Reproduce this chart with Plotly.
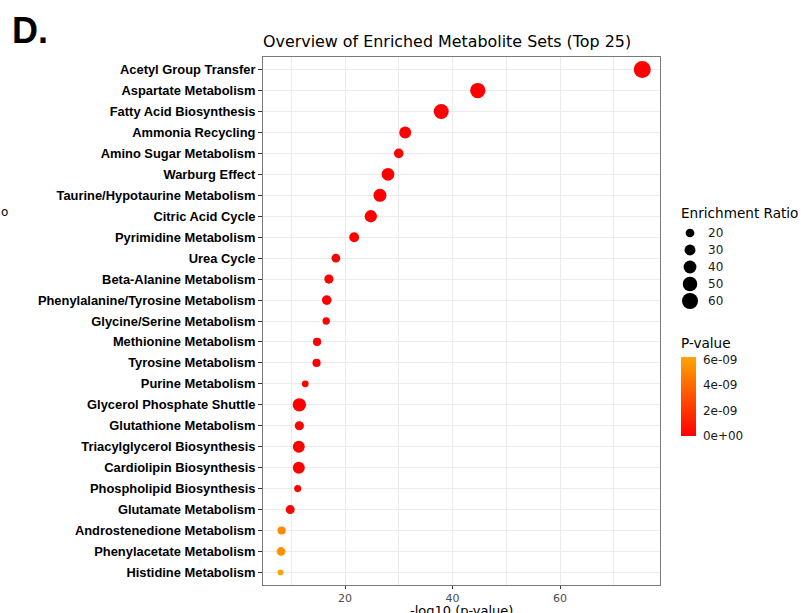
import numpy as np
import plotly.graph_objects as go

# ---------------- data ----------------
metabolite_sets = [
    "Acetyl Group Transfer", "Aspartate Metabolism", "Fatty Acid Biosynthesis",
    "Ammonia Recycling", "Amino Sugar Metabolism", "Warburg Effect",
    "Taurine/Hypotaurine Metabolism", "Citric Acid Cycle", "Pyrimidine Metabolism",
    "Urea Cycle", "Beta-Alanine Metabolism", "Phenylalanine/Tyrosine Metabolism",
    "Glycine/Serine Metabolism", "Methionine Metabolism", "Tyrosine Metabolism",
    "Purine Metabolism", "Glycerol Phosphate Shuttle", "Glutathione Metabolism",
    "Triacylglycerol Biosynthesis", "Cardiolipin Biosynthesis",
    "Phospholipid Biosynthesis", "Glutamate Metabolism",
    "Androstenedione Metabolism", "Phenylacetate Metabolism", "Histidine Metabolism",
]
neg_log10_p = [75.3, 44.7, 37.9, 31.2, 30.0, 28.0, 26.5, 24.8, 21.7, 18.3,
               17.0, 16.6, 16.5, 14.8, 14.7, 12.6, 11.5, 11.5, 11.4, 11.4,
               11.2, 9.8, 8.2, 8.1, 8.0]
enrichment_ratio = [67, 55, 53, 35, 24, 39, 41, 37, 25, 20,
                    22, 24, 15, 18, 18, 13, 43, 22, 35, 35,
                    14, 21, 18, 20, 10]
p_value = [5e-76, 2e-45, 1.3e-38, 6e-32, 1e-30, 1e-28, 3e-27, 1.6e-25, 2e-22, 5e-19,
           1e-17, 2.5e-17, 3e-17, 1.6e-15, 2e-15, 2.5e-13, 3e-12, 3e-12, 4e-12, 4e-12,
           6e-12, 1.6e-10, 5.2e-9, 5.4e-9, 6.2e-9]
size_breaks = [20, 30, 40, 50, 60]
p_ticks = [0, 2e-9, 4e-9, 6e-9]
p_tick_labels = ["0e+00", "2e-09", "4e-09", "6e-09"]
x_ticks = [20, 40, 60]

# ---------------- layout constants ----------------
W, H = 801, 613
L, R, T, B = 263, 1, 57, 28
PW = W - L - R
PH = H - T - B
panel_right = 660


def px_x(px):
    return (px - L) / PW


def px_y(py):
    return (H - B - py) / PH


def diam(v):
    return 2.23 * np.sqrt(np.asarray(v, dtype=float)) - 1.26


DEJAVU = "DejaVu Sans"
ARIAL = "Liberation Sans, Arial"

fig = go.Figure()

fig.add_trace(go.Scatter(
    x=neg_log10_p, y=metabolite_sets, mode="markers",
    marker=dict(size=diam(enrichment_ratio), color=p_value, opacity=1,
                colorscale=[[0, "#FF0000"], [1, "#FFA500"]],
                cmin=0, cmax=6.2e-9, line=dict(width=0),
                showscale=True,
                colorbar=dict(x=px_x(681), xanchor="left", xpad=0,
                              y=px_y(396.5), yanchor="middle", ypad=0,
                              len=79, lenmode="pixels", thickness=15,
                              thicknessmode="pixels", outlinewidth=0,
                              tickvals=p_ticks, ticktext=p_tick_labels,
                              ticks="outside", ticklen=5, tickcolor="rgba(0,0,0,0)",
                              tickfont=dict(family=DEJAVU, size=12, color="#1a1a1a"))),
    showlegend=False, hoverinfo="x+y",
))

# size legend
fig.add_trace(go.Scatter(
    x=[1] * len(size_breaks), y=size_breaks, mode="markers",
    marker=dict(size=diam(size_breaks), color="black", opacity=1, line=dict(width=0)),
    xaxis="x2", yaxis="y2", showlegend=False, hoverinfo="skip",
))

annotations = []
for b in size_breaks:
    annotations.append(dict(x=2.6, y=b, xref="x2", yref="y2", text=str(b),
                            showarrow=False, xanchor="left", yanchor="middle",
                            font=dict(family=DEJAVU, size=12, color="#1a1a1a")))

annotations += [
    dict(x=px_x(679), y=px_y(213), xref="paper", yref="paper", text="Enrichment Ratio",
         showarrow=False, xanchor="left", yanchor="middle",
         font=dict(family=DEJAVU, size=13.6, color="black")),
    dict(x=px_x(679), y=px_y(343), xref="paper", yref="paper", text="P-value",
         showarrow=False, xanchor="left", yanchor="middle",
         font=dict(family=DEJAVU, size=13.6, color="black")),
    dict(x=px_x(261), y=px_y(41), xref="paper", yref="paper",
         text="Overview of Enriched Metabolite Sets (Top 25)",
         showarrow=False, xanchor="left", yanchor="middle",
         font=dict(family=DEJAVU, size=15.9, color="black")),
    dict(x=px_x((L + panel_right) / 2), y=px_y(610), xref="paper", yref="paper",
         text="-log10 (p-value)", showarrow=False, xanchor="center", yanchor="middle",
         font=dict(family=DEJAVU, size=13, color="black")),
    dict(x=px_x(10), y=px_y(31), xref="paper", yref="paper", text="<b>D.</b>",
         showarrow=False, xanchor="left", yanchor="middle",
         font=dict(family=ARIAL, size=36, color="black")),
    dict(x=px_x(-1), y=px_y(212), xref="paper", yref="paper", text="o",
         showarrow=False, xanchor="left", yanchor="middle",
         font=dict(family=DEJAVU, size=12, color="black")),
]

fig.update_layout(
    width=W, height=H,
    margin=dict(l=L, r=R, t=T, b=B, pad=0),
    paper_bgcolor="white", plot_bgcolor="white",
    annotations=annotations,
    xaxis=dict(domain=[0, (panel_right - L) / PW], range=[4.74, 78.6],
               tickvals=x_ticks, ticks="outside", ticklen=3, tickcolor="#333333",
               tickwidth=1,
               tickfont=dict(family=DEJAVU, size=11, color="#4D4D4D"),
               showgrid=True, gridcolor="#EBEBEB", gridwidth=1.1,
               minor=dict(dtick=10, tick0=0, showgrid=True, gridcolor="#EBEBEB",
                          gridwidth=0.6, ticks=""),
               showline=True, mirror=True, linecolor="#7a7a7a", linewidth=1,
               zeroline=False, automargin=False, fixedrange=True),
    yaxis=dict(type="category", categoryorder="array", categoryarray=metabolite_sets,
               range=[len(metabolite_sets) - 0.4, -0.6],
               ticks="outside", ticklen=4, tickcolor="#333333", tickwidth=1,
               tickfont=dict(family=ARIAL, size=12.9, color="black", weight="bold"),
               showgrid=True, gridcolor="#EBEBEB", gridwidth=1.1,
               showline=True, mirror=True, linecolor="#7a7a7a", linewidth=1,
               zeroline=False, automargin=False, fixedrange=True),
    xaxis2=dict(domain=[px_x(680), px_x(800)], range=[0, 12], visible=False,
                anchor="y2", fixedrange=True),
    yaxis2=dict(domain=[px_y(309.5), px_y(224.5)], range=[65, 15], visible=False,
                anchor="x2", fixedrange=True),
)

fig.write_html("out.html")
